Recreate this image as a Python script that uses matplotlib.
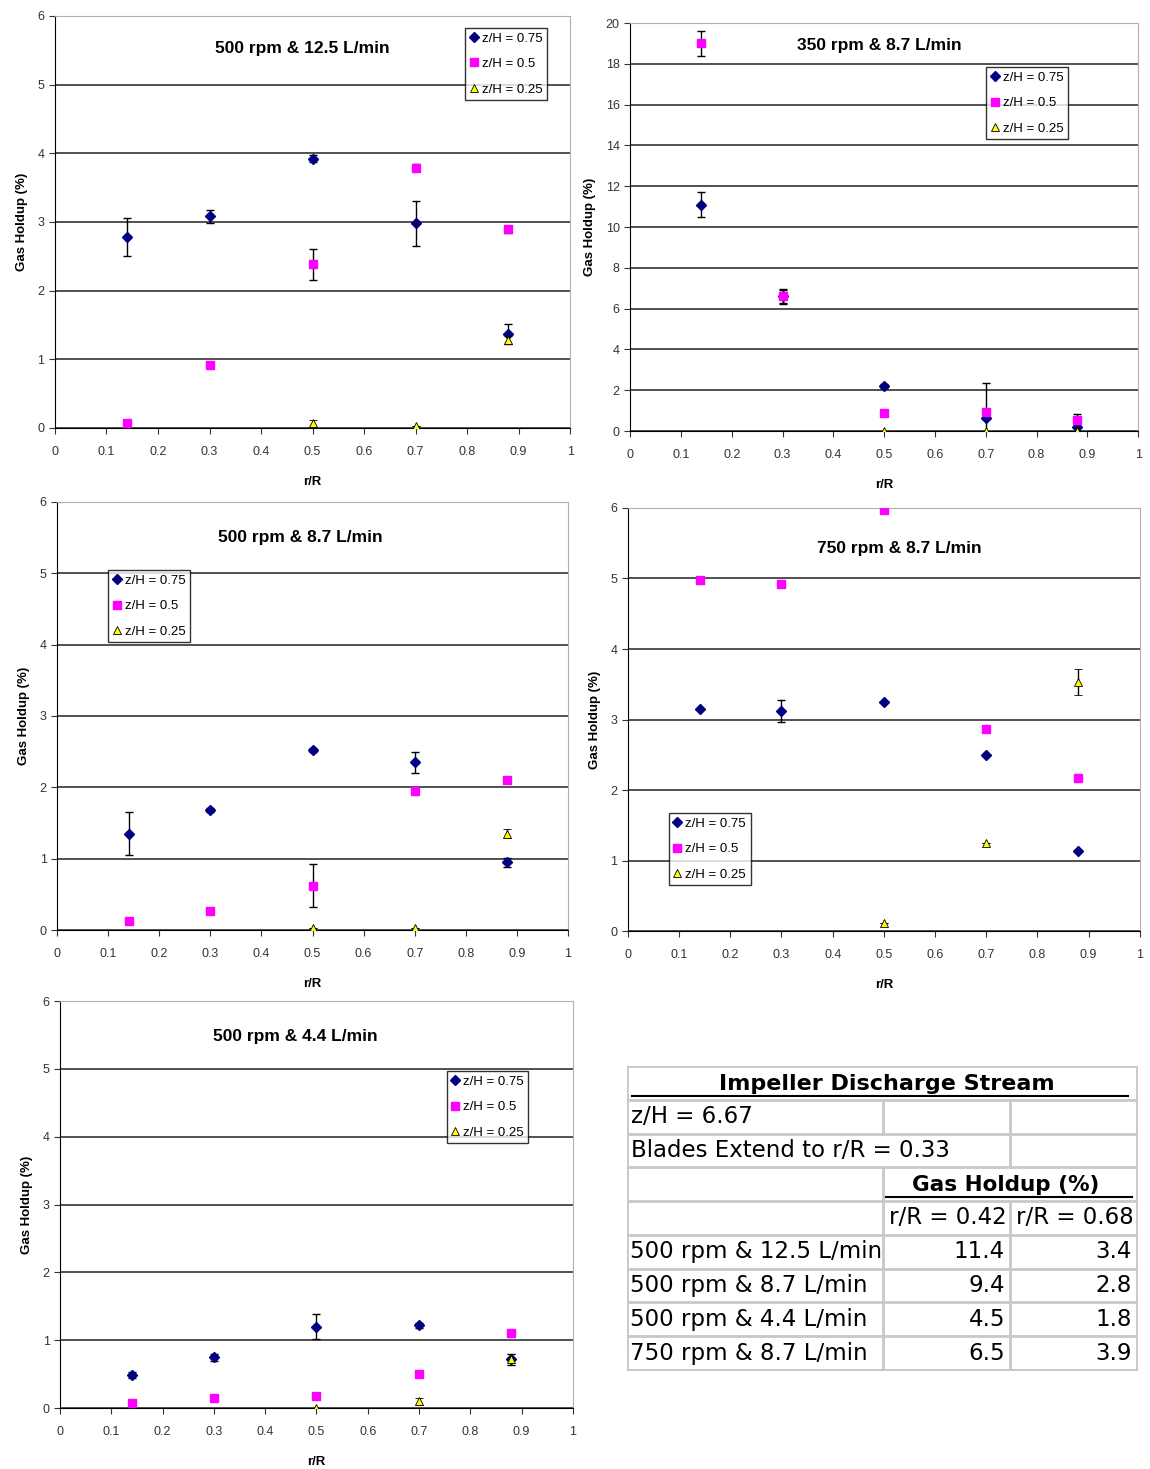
import numpy as np
import matplotlib
matplotlib.use("Agg")
from matplotlib import pyplot as plt

plt.rcParams['font.family'] = ['Liberation Sans', 'DejaVu Sans']

r_R = [0.14, 0.3, 0.5, 0.7, 0.88]
r_R_low = [0.5, 0.7, 0.88]
series_labels = ["z/H = 0.75", "z/H = 0.5", "z/H = 0.25"]

# 500 rpm & 12.5 L/min
p1_title = "500 rpm & 12.5 L/min"
p1_z075 = [2.78, 3.08, 3.92, 2.98, 1.37]
p1_z075_err = [0.28, 0.1, 0.05, 0.33, 0.15]
p1_z05 = [0.07, 0.91, 2.38, 3.79, 2.89]
p1_z05_err = [0.0, 0.0, 0.22, 0.05, 0.05]
p1_z025 = [0.07, 0.03, 1.28]
p1_z025_err = [0.05, 0.0, 0.06]

# 350 rpm & 8.7 L/min
p2_title = "350 rpm & 8.7 L/min"
p2_z075 = [11.1, 6.6, 2.2, 0.65, 0.2]
p2_z075_err = [0.6, 0.3, 0.1, 1.7, 0.3]
p2_z05 = [19.0, 6.6, 0.9, 0.95, 0.55]
p2_z05_err = [0.6, 0.35, 0.0, 0.0, 0.3]
p2_z025 = [0.0, 0.0, 0.0]
p2_z025_err = [0.0, 0.0, 0.0]

# 500 rpm & 8.7 L/min
p3_title = "500 rpm & 8.7 L/min"
p3_z075 = [1.35, 1.68, 2.52, 2.35, 0.95]
p3_z075_err = [0.3, 0.03, 0.03, 0.15, 0.06]
p3_z05 = [0.13, 0.27, 0.62, 1.95, 2.1]
p3_z05_err = [0.0, 0.0, 0.3, 0.0, 0.0]
p3_z025 = [0.03, 0.03, 1.35]
p3_z025_err = [0.0, 0.0, 0.06]

# 750 rpm & 8.7 L/min
p4_title = "750 rpm & 8.7 L/min"
p4_z075 = [3.15, 3.12, 3.25, 2.5, 1.13]
p4_z075_err = [0.0, 0.15, 0.0, 0.0, 0.0]
p4_z05 = [4.98, 4.92, 5.97, 2.86, 2.17]
p4_z05_err = [0.0, 0.0, 0.0, 0.0, 0.0]
p4_z025 = [0.12, 1.25, 3.53]
p4_z025_err = [0.0, 0.0, 0.18]

# 500 rpm & 4.4 L/min
p5_title = "500 rpm & 4.4 L/min"
p5_z075 = [0.49, 0.75, 1.2, 1.22, 0.72]
p5_z075_err = [0.04, 0.05, 0.18, 0.04, 0.08]
p5_z05 = [0.08, 0.15, 0.18, 0.5, 1.1]
p5_z05_err = [0.0, 0.0, 0.0, 0.0, 0.0]
p5_z025 = [0.0, 0.1, 0.72]
p5_z025_err = [0.0, 0.05, 0.08]

# table
tbl_title = "Impeller Discharge Stream"
tbl_zH = "z/H = 6.67"
tbl_blades = "Blades Extend to r/R = 0.33"
tbl_head = "Gas Holdup (%)"
tbl_cols = ["r/R = 0.42", "r/R = 0.68"]
tbl_conditions = ["500 rpm & 12.5 L/min", "500 rpm & 8.7 L/min",
                  "500 rpm & 4.4 L/min", "750 rpm & 8.7 L/min"]
tbl_r042 = [11.4, 9.4, 4.5, 6.5]
tbl_r068 = [3.4, 2.8, 1.8, 3.9]


def panel(rect, title, tpos, data, ymax, ystep, legpos):
    ax = fig.add_axes(rect)
    (a, ae), (b, be), (c, ce) = data
    e1 = ax.errorbar(r_R, a, yerr=ae, fmt='D', color='#000080', ms=5,
                     ecolor='black', elinewidth=1, capsize=3, zorder=3)
    e2 = ax.errorbar(r_R, b, yerr=be, fmt='s', color='#ff00ff', ms=5.5,
                     ecolor='black', elinewidth=1, capsize=3, zorder=3)
    e3 = ax.errorbar(r_R_low, c, yerr=ce, fmt='^', mfc='#ffff00', mec='black', mew=0.6, ms=5.5,
                     ecolor='black', elinewidth=1, capsize=3, zorder=4)
    ax.set_xlim(0, 1)
    ax.set_ylim(0, ymax)
    ax.set_xticks(np.arange(0, 1.01, 0.1))
    ax.set_xticklabels(['0', '0.1', '0.2', '0.3', '0.4', '0.5', '0.6', '0.7', '0.8', '0.9', '1'])
    ax.set_yticks(np.arange(0, ymax + 0.01, ystep))
    ax.yaxis.grid(True, color='#333333', lw=1.2)
    ax.set_axisbelow(True)
    ax.tick_params(labelsize=9, colors='#333333', length=4, direction='out')
    ax.tick_params(axis='x', pad=9)
    for s in ['top', 'right']:
        ax.spines[s].set_color('#b0b0b0')
    for s in ['left', 'bottom']:
        ax.spines[s].set_color('black')
    ax.set_xlabel("r/R", fontsize=9.5, fontweight='bold', labelpad=13)
    ax.set_ylabel("Gas Holdup (%)", fontsize=9.5, fontweight='bold', labelpad=7)
    ax.text(tpos[0], tpos[1], title, transform=ax.transAxes, ha='center', va='center',
            fontsize=12.5, fontweight='bold')
    leg = ax.legend([e1.lines[0], e2.lines[0], e3.lines[0]], series_labels,
                    loc='upper left', bbox_to_anchor=legpos, fontsize=9.5, frameon=True,
                    fancybox=False, edgecolor='black', handlelength=0.6, handletextpad=0.3,
                    borderpad=0.35, labelspacing=1.0, borderaxespad=0)
    leg.get_frame().set_linewidth(1)
    return ax


fig = plt.figure(figsize=(11.5, 14.69), dpi=100)

panel([0.0478, 0.7087, 0.448, 0.2805], p1_title, (0.48, 0.922),
      [(p1_z075, p1_z075_err), (p1_z05, p1_z05_err), (p1_z025, p1_z025_err)],
      6, 1, (0.796, 0.971))
panel([0.548, 0.7066, 0.4417, 0.2777], p2_title, (0.49, 0.946),
      [(p2_z075, p2_z075_err), (p2_z05, p2_z05_err), (p2_z025, p2_z025_err)],
      20, 2, (0.701, 0.892))
panel([0.0496, 0.3669, 0.4443, 0.2914], p3_title, (0.476, 0.918),
      [(p3_z075, p3_z075_err), (p3_z05, p3_z05_err), (p3_z025, p3_z025_err)],
      6, 1, (0.10, 0.841))
panel([0.546, 0.3662, 0.4452, 0.288], p4_title, (0.53, 0.905),
      [(p4_z075, p4_z075_err), (p4_z05, p4_z05_err), (p4_z025, p4_z025_err)],
      6, 1, (0.08, 0.279))
panel([0.0522, 0.0415, 0.446, 0.277], p5_title, (0.458, 0.914),
      [(p5_z075, p5_z075_err), (p5_z05, p5_z05_err), (p5_z025, p5_z025_err)],
      6, 1, (0.754, 0.828))

# table drawn in pixel-like coordinates
tx = fig.add_axes([627 / 1150, 1 - 1371 / 1469, 511 / 1150, 305 / 1469])
tx.set_xlim(627, 1138)
tx.set_ylim(1371, 1066)
tx.axis('off')
gc = '#c8c8c8'
rows = np.linspace(1066, 1370, 10)
cx = [627, 883, 1010, 1137]
tx.plot([cx[0], cx[-1], cx[-1], cx[0], cx[0]], [rows[0], rows[0], rows[-1], rows[-1], rows[0]],
        color=gc, lw=2)
for i in range(1, 9):
    tx.plot([cx[0], cx[-1]], [rows[i], rows[i]], color=gc, lw=2)
# vertical lines skipping merged cells
tx.plot([cx[1], cx[1]], [rows[1], rows[2]], color=gc, lw=2)
tx.plot([cx[1], cx[1]], [rows[3], rows[-1]], color=gc, lw=2)
tx.plot([cx[2], cx[2]], [rows[1], rows[3]], color=gc, lw=2)
tx.plot([cx[2], cx[2]], [rows[4], rows[-1]], color=gc, lw=2)

fs = 16.5
fam = ['DejaVu Sans']
tx.text(887, (rows[0] + rows[1]) / 2 + 1, tbl_title, ha='center', va='center',
        fontsize=16, fontweight='bold', family=fam)
tx.plot([632, 1128], [1096, 1096], color='black', lw=1.5)
tx.text(cx[0] + 4, (rows[1] + rows[2]) / 2, tbl_zH, ha='left', va='center', fontsize=fs, family=fam)
tx.text(cx[0] + 4, (rows[2] + rows[3]) / 2, tbl_blades, ha='left', va='center', fontsize=fs, family=fam)
tx.text(1006, (rows[3] + rows[4]) / 2 + 1, tbl_head, ha='center', va='center',
        fontsize=15.5, fontweight='bold', family=fam)
tx.plot([886, 1132], [1197, 1197], color='black', lw=1.5)
tx.text(cx[2] - 3, (rows[4] + rows[5]) / 2, tbl_cols[0], ha='right', va='center', fontsize=fs, family=fam)
tx.text(cx[3] - 3, (rows[4] + rows[5]) / 2, tbl_cols[1], ha='right', va='center', fontsize=fs, family=fam)
for i, (cond, v1, v2) in enumerate(zip(tbl_conditions, tbl_r042, tbl_r068)):
    yc = (rows[5 + i] + rows[6 + i]) / 2
    tx.text(cx[0] + 3, yc, cond, ha='left', va='center', fontsize=fs, family=fam)
    tx.text(cx[2] - 5, yc, f"{v1:.1f}", ha='right', va='center', fontsize=fs, family=fam)
    tx.text(cx[3] - 5, yc, f"{v2:.1f}", ha='right', va='center', fontsize=fs, family=fam)

fig.savefig("out.png", dpi=100)
